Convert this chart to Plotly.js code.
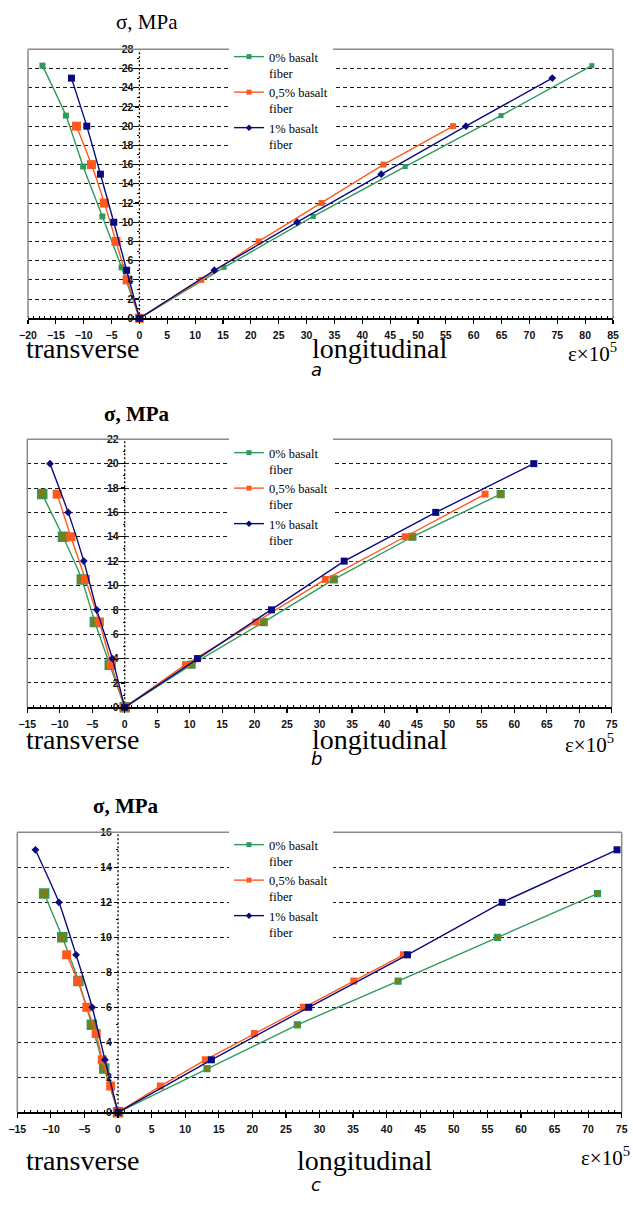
<!DOCTYPE html>
<html>
<head>
<meta charset="utf-8">
<script src="https://cdn.plot.ly/plotly-3.0.1.min.js"></script>
<style>html,body{margin:0;padding:0;background:#fff;}#chart{width:633px;height:1209px;}</style>
</head>
<body>
<div id="chart"></div>
<script>
// ---------- DATA (strain ×10^5, stress MPa) ----------
// Chart a
const a_green_s = [0, 5.3, 10.6, 15.8, 21.1, 26.3];
const a_green_t = [0, -3.2, -6.65, -10.1, -13.2, -17.4];
const a_green_l = [0, 15.2, 31.2, 47.7, 64.9, 81.2];
const a_orange_s = [0, 4, 8, 12, 16, 20];
const a_orange_t = [0, -2.2, -4.2, -6.3, -8.6, -11.3];
const a_orange_l = [0, 11.1, 21.4, 32.7, 43.8, 56.3];
const a_navy_s = [0, 5, 10, 15, 20, 25];
const a_navy_t = [0, -2.3, -4.6, -7.0, -9.45, -12.2];
const a_navy_l = [0, 13.45, 28.3, 43.4, 58.6, 74.1];
// Chart b
const b_green_s = [0, 3.5, 7, 10.5, 14, 17.5];
const b_green_t = [0, -2.3, -4.6, -6.6, -9.5, -12.7];
const b_green_l = [0, 10.3, 21.4, 32.2, 44.3, 57.9];
const b_orange_s = [0, 3.5, 7, 10.5, 14, 17.5];
const b_orange_t = [0, -2.05, -3.9, -6.05, -8.3, -10.4];
const b_orange_l = [0, 9.35, 20.2, 30.9, 43.2, 55.5];
const b_navy_s = [0, 4, 8, 12, 16, 20];
const b_navy_t = [0, -1.9, -4.3, -6.3, -8.7, -11.5];
const b_navy_l = [0, 11.2, 22.6, 33.8, 47.9, 63.0];
// Chart c
const c_green_s = [0, 2.5, 5, 7.5, 10, 12.5];
const c_green_t = [0, -2.05, -3.9, -5.9, -8.3, -11.0];
const c_green_l = [0, 13.25, 26.7, 41.7, 56.5, 71.4];
const c_orange_s = [0, 1.5, 3, 4.5, 6, 7.5, 9];
const c_orange_t = [0, -1.1, -2.35, -3.25, -4.65, -6.0, -7.65];
const c_orange_l = [0, 6.3, 13.0, 20.3, 27.6, 35.1, 42.5];
const c_navy_s = [0, 3, 6, 9, 12, 15];
const c_navy_t = [0, -1.95, -3.85, -6.25, -8.8, -12.3];
const c_navy_l = [0, 13.9, 28.4, 43.1, 57.2, 74.3];

const seriesNames = ["0% basalt<br>fiber", "0,5% basalt<br>fiber", "1% basalt<br>fiber"];
const xRanges = [[-20, 85], [-15, 75], [-15, 75]];
const yRanges = [[0, 28], [0, 22], [0, 16]];
const panelLetters = ["a", "b", "c"];

// ---------- STYLE ----------
const W = 633, H = 1209;
const GREEN = "#2f9a5c", ORANGE = "#ff5a1e", NAVY = "#0a0a80", OLIVE = "#7d7d14";
const px = v => v / W;
const py = v => 1 - v / H;

// plot areas in pixels [left, right, top, bottom]
const boxes = [[28, 613, 49.3, 318.3], [27.3, 611.7, 439.3, 707.3], [17.3, 621.7, 832.3, 1112.3]];

const data = [];
const sets = [
  {s:[a_green_s,a_orange_s,a_navy_s], t:[a_green_t,a_orange_t,a_navy_t], l:[a_green_l,a_orange_l,a_navy_l]},
  {s:[b_green_s,b_orange_s,b_navy_s], t:[b_green_t,b_orange_t,b_navy_t], l:[b_green_l,b_orange_l,b_navy_l]},
  {s:[c_green_s,c_orange_s,c_navy_s], t:[c_green_t,c_orange_t,c_navy_t], l:[c_green_l,c_orange_l,c_navy_l]}
];
const mkT = [
  [{symbol:"square", size:6, color:GREEN}, {symbol:"square", size:9, color:ORANGE}, {symbol:"square", size:7, color:NAVY}],
  [{symbol:"square", size:9, color:OLIVE, line:{color:GREEN,width:1.5}}, {symbol:"square", size:9, color:ORANGE}, {symbol:"diamond", size:6, color:NAVY}],
  [{symbol:"square", size:9, color:OLIVE, line:{color:GREEN,width:1.5}}, {symbol:"square", size:9, color:ORANGE}, {symbol:"diamond", size:6, color:NAVY}]
];
const mkL = [
  [{symbol:"square", size:5, color:GREEN}, {symbol:"square", size:6, color:ORANGE}, {symbol:"diamond", size:6, color:NAVY}],
  [{symbol:"square", size:7, color:OLIVE, line:{color:GREEN,width:1.2}}, {symbol:"square", size:7, color:ORANGE}, {symbol:"square", size:7, color:NAVY}],
  [{symbol:"square", size:6, color:OLIVE, line:{color:GREEN,width:1.2}}, {symbol:"square", size:7, color:ORANGE}, {symbol:"square", size:7, color:NAVY}]
];
const lineColors = [GREEN, ORANGE, NAVY];
const legendSymbols = ["square", "square", "diamond"];

for (let p = 0; p < 3; p++) {
  const ax = p === 0 ? "" : String(p + 1);
  for (let k = 0; k < 3; k++) {
    data.push({type:"scatter", mode:"lines+markers", x:sets[p].t[k], y:sets[p].s[k],
      xaxis:"x"+ax, yaxis:"y"+ax, showlegend:false,
      line:{color:lineColors[k], width:1.4, shape:"spline", smoothing:0.5}, marker:mkT[p][k], cliponaxis:false});
    data.push({type:"scatter", mode:"lines+markers", x:sets[p].l[k], y:sets[p].s[k],
      xaxis:"x"+ax, yaxis:"y"+ax, showlegend:false,
      line:{color:lineColors[k], width:1.4}, marker:mkL[p][k], cliponaxis:false});
  }
  for (let k = 0; k < 3; k++) {
    data.push({type:"scatter", mode:"lines+markers", x:[null], y:[null], xaxis:"x"+ax, yaxis:"y"+ax,
      name:seriesNames[k], legend: p === 0 ? "legend" : "legend"+(p+1),
      line:{color:lineColors[k], width:1.4}, marker:{symbol:legendSymbols[k], size:5, color:lineColors[k]}});
  }
}

const layout = {
  width: W, height: H, margin:{l:0, r:0, t:0, b:0},
  paper_bgcolor:"#fff", plot_bgcolor:"#fff", showlegend:true,
  font:{family:"Liberation Sans, Arial, sans-serif", color:"#000"},
  shapes:[], annotations:[]
};

const legendTops = [42, 438, 830];
const tickFont = {family:"Liberation Sans, Arial, sans-serif", size:10.5, color:"#111", weight:"bold"};

for (let p = 0; p < 3; p++) {
  const ax = p === 0 ? "" : String(p + 1);
  const [L, R, T, B] = boxes[p];
  const xr = xRanges[p], yr = yRanges[p];
  const dom = [px(L), px(R)];
  const yPos = dom[0] + (dom[1] - dom[0]) * (0 - xr[0]) / (xr[1] - xr[0]);
  layout["xaxis"+ax] = {domain:dom, range:xr, anchor:"y"+ax, dtick:5, tick0:0,
    showgrid:false, zeroline:false, showline:true, linecolor:"#000", linewidth:1.5,
    ticks:"outside", ticklen:4, tickcolor:"#000", tickwidth:1.2, ticklabelstandoff:3,
    minor:{dtick:1, ticks:"inside", ticklen:2, tickcolor:"#000", tickwidth:1},
    tickfont:tickFont, fixedrange:true};
  layout["yaxis"+ax] = {domain:[py(B), py(T)], range:yr, anchor:"free", position:yPos,
    dtick:2, tick0:0, showgrid:true, gridcolor:"#1a1a1a", gridwidth:1, griddash:"4px,3px",
    zeroline:false, showline:false, ticks:"outside", ticklen:4, tickcolor:"#000", tickwidth:1.2,
    minor:{dtick:1, ticks:"outside", ticklen:2, tickcolor:"#000", tickwidth:1},
    tickfont:tickFont, fixedrange:true};
  const frame = {type:"line", xref:"x"+ax+" domain", yref:"y"+ax+" domain", line:{color:"#8a8a8a", width:1.5}, layer:"above"};
  layout.shapes.push(Object.assign({}, frame, {x0:0, x1:0, y0:0, y1:1}));
  layout.shapes.push(Object.assign({}, frame, {x0:0, x1:1, y0:1, y1:1}));
  layout.shapes.push(Object.assign({}, frame, {x0:1, x1:1, y0:0, y1:1}));
  layout.shapes.push({type:"line", xref:"x"+ax, yref:"y"+ax+" domain", x0:0, x1:0, y0:0, y1:1,
    line:{color:"#000", width:1.3, dash:"2px,2px"}, layer:"below"});
  layout[p === 0 ? "legend" : "legend"+(p+1)] = {x:px(229), y:py(legendTops[p]), xanchor:"left", yanchor:"top",
    bgcolor:"#fff", borderwidth:0, valign:"top", tracegroupgap:0, itemwidth:30,
    font:{family:"Liberation Serif, Times New Roman, serif", size:12.5, color:"#000"}};
}

const ann = (text, x, y, opts) => Object.assign({text:text, x:px(x), y:py(y), xref:"paper", yref:"paper",
  showarrow:false, font:{family:"Liberation Serif, Times New Roman, serif", size:28, color:"#000"}}, opts || {});

const titleY = [22, 414, 806], titleX = [147, 137, 126];
const labY = [348, 739, 1160], epsY = [352, 743, 1156], epsR = [619, 616, 632];
const longX = [310, 310, 295], letterY = [369, 758, 1184];
for (let p = 0; p < 3; p++) {
  layout.annotations.push(ann("σ, MPa", titleX[p], titleY[p], {xanchor:"center", yanchor:"middle",
    font:{family:"Liberation Serif, Times New Roman, serif", size:21, color:"#000", weight: p === 0 ? "normal" : "bold"}}));
  layout.annotations.push(ann("transverse", 24, labY[p], {xanchor:"left", yanchor:"middle"}));
  layout.annotations.push(ann("longitudinal", longX[p], labY[p], {xanchor:"left", yanchor:"middle"}));
  layout.annotations.push(ann("ε×10<sup>5</sup>", epsR[p], epsY[p], {xanchor:"right", yanchor:"middle",
    font:{family:"Liberation Serif, Times New Roman, serif", size:21, color:"#000"}}));
  layout.annotations.push(ann(panelLetters[p], 316, letterY[p], {xanchor:"center", yanchor:"middle",
    font:{family:"DejaVu Sans, sans-serif", size:18, color:"#000", style:"italic"}}));
}

Plotly.newPlot("chart", data, layout, {staticPlot:true});
</script>
</body>
</html>
